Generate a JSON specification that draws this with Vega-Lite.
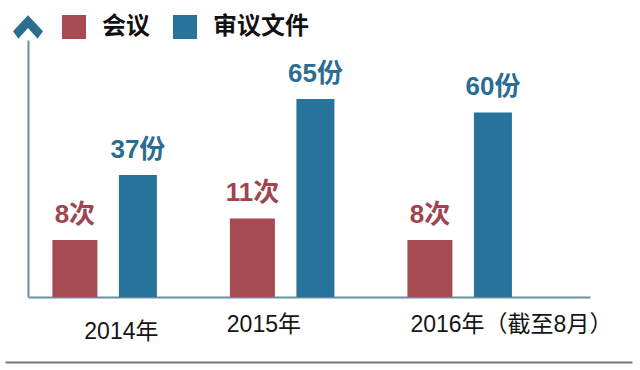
{
  "$schema": "https://vega.github.io/schema/vega-lite/v6.json",
  "width": 562,
  "height": 257,
  "autosize": {"type": "none"},
  "padding": {"left": 28, "top": 40, "right": 50, "bottom": 73},
  "background": "white",
  "config": {"view": {"stroke": null}, "font": "Noto Sans CJK SC"},
  "data": {
    "values": [
      {"year": "2014年", "series": "会议", "value": 8, "label": "8次"},
      {"year": "2014年", "series": "审议文件", "value": 37, "label": "37份"},
      {"year": "2015年", "series": "会议", "value": 11, "label": "11次"},
      {"year": "2015年", "series": "审议文件", "value": 65, "label": "65份"},
      {"year": "2016年（截至8月）", "series": "会议", "value": 8, "label": "8次"},
      {"year": "2016年（截至8月）", "series": "审议文件", "value": 60, "label": "60份"}
    ]
  },
  "layer": [
    {
      "transform": [{"filter": "datum.series === '会议'"}],
      "encoding": {
        "x": {
          "field": "year", "type": "nominal", "sort": null,
          "scale": {"domain": ["2014年", "2015年", "2016年（截至8月）"], "paddingInner": 0.29, "paddingOuter": 0.228, "align": 0.19},
          "axis": {
            "orient": "bottom", "title": null, "grid": false, "ticks": false,
            "domain": true, "domainColor": "#6b8fa0", "domainWidth": 2,
            "labelFont": "Liberation Sans, Noto Sans CJK SC", "labelFontSize": 23, "labelColor": "#151515",
            "labelAngle": 0, "labelBaseline": "top", "labelLimit": 400, "labelOverlap": false,
            "labelPadding": {"condition": {"test": "datum.value === '2014年'", "value": 23}, "value": 16},
            "labelOffset": {"condition": [{"test": "datum.value === '2014年'", "value": 15}, {"test": "datum.value === '2015年'", "value": -20}], "value": 50}
          }
        },
        "xOffset": {"field": "series", "type": "nominal", "scale": {"domain": ["会议", "审议文件"], "paddingInner": 0, "paddingOuter": 0}},
        "y": {
          "field": "value", "type": "quantitative",
          "scale": {"domain": [0, 36], "nice": false, "zero": true},
          "axis": {"title": null, "labels": false, "ticks": false, "grid": false, "domain": true, "domainColor": "#6b8fa0", "domainWidth": 2}
        }
      },
      "layer": [
        {
          "mark": {"type": "bar", "width": 45, "opacity": 1},
          "encoding": {
            "color": {
              "field": "series", "type": "nominal",
              "scale": {"domain": ["会议", "审议文件"], "range": ["#a64b52", "#28739b"]},
              "legend": {
                "orient": "none", "legendX": 34, "legendY": -25, "direction": "horizontal", "title": null,
                "symbolType": "square", "symbolSize": 576, "symbolStrokeWidth": 0, "symbolOpacity": 1,
                "labelFont": "Noto Sans CJK SC", "labelFontSize": 24, "labelFontWeight": "bold", "labelColor": "#111111",
                "labelOffset": 16, "columnPadding": 23, "padding": 0
              }
            }
          }
        },
        {
          "mark": {"type": "text", "font": "Liberation Sans, Noto Sans CJK SC", "fontSize": 26, "fontWeight": "bold", "color": "#9d4652", "baseline": "middle", "align": "center", "dy": -25},
          "encoding": {"text": {"field": "label", "type": "nominal"}}
        }
      ]
    },
    {
      "transform": [{"filter": "datum.series === '审议文件'"}],
      "encoding": {
        "x": {
          "field": "year", "type": "nominal", "sort": null,
          "scale": {"domain": ["2014年", "2015年", "2016年（截至8月）"], "paddingInner": 0.29, "paddingOuter": 0.228, "align": 0.19},
          "axis": null
        },
        "xOffset": {"field": "series", "type": "nominal", "scale": {"domain": ["会议", "审议文件"], "paddingInner": 0, "paddingOuter": 0}},
        "y": {
          "field": "value", "type": "quantitative",
          "scale": {"domain": [-8, 86.7], "nice": false, "zero": false},
          "axis": null
        }
      },
      "layer": [
        {
          "mark": {"type": "bar", "width": 38, "opacity": 1},
          "encoding": {
            "y2": {"datum": -8},
            "color": {
              "field": "series", "type": "nominal",
              "scale": {"domain": ["会议", "审议文件"], "range": ["#a64b52", "#28739b"]},
              "legend": {
                "orient": "none", "legendX": 34, "legendY": -25, "direction": "horizontal", "title": null,
                "symbolType": "square", "symbolSize": 576, "symbolStrokeWidth": 0, "symbolOpacity": 1,
                "labelFont": "Noto Sans CJK SC", "labelFontSize": 24, "labelFontWeight": "bold", "labelColor": "#111111",
                "labelOffset": 16, "columnPadding": 23, "padding": 0
              }
            }
          }
        },
        {
          "mark": {"type": "text", "font": "Liberation Sans, Noto Sans CJK SC", "fontSize": 26, "fontWeight": "bold", "color": "#2b6d92", "baseline": "middle", "align": "center", "dy": -25},
          "encoding": {"text": {"field": "label", "type": "nominal"}}
        }
      ]
    },
    {
      "data": {"values": [{"item": "axis arrow"}]},
      "mark": {"type": "point", "shape": "M 0 -0.79 L 1 0.29 L 0.64 0.79 L 0 0.07 L -0.64 0.79 L -1 0.29 Z", "size": 900, "filled": true, "color": "#2b6f8e", "opacity": 1, "strokeWidth": 0},
      "encoding": {
        "x": {"datum": 0, "type": "quantitative", "scale": {"domain": [0, 1], "nice": false}, "axis": null},
        "y": {"datum": 37.82, "type": "quantitative", "scale": {"domain": [0, 36], "nice": false}, "axis": null}
      }
    },
    {
      "data": {"values": [{"item": "bottom line"}]},
      "mark": {"type": "rule", "opacity": 0},
      "encoding": {
        "x": {
          "datum": 0, "type": "quantitative",
          "scale": {"domain": [0, 1], "range": [-23, 604], "nice": false},
          "axis": {"orient": "bottom", "offset": 65, "domainColor": "#777777", "domainWidth": 2, "ticks": false, "labels": false, "grid": false, "title": null}
        }
      }
    }
  ],
  "resolve": {
    "scale": {"x": "independent", "y": "independent"},
    "axis": {"x": "independent", "y": "independent"}
  }
}
